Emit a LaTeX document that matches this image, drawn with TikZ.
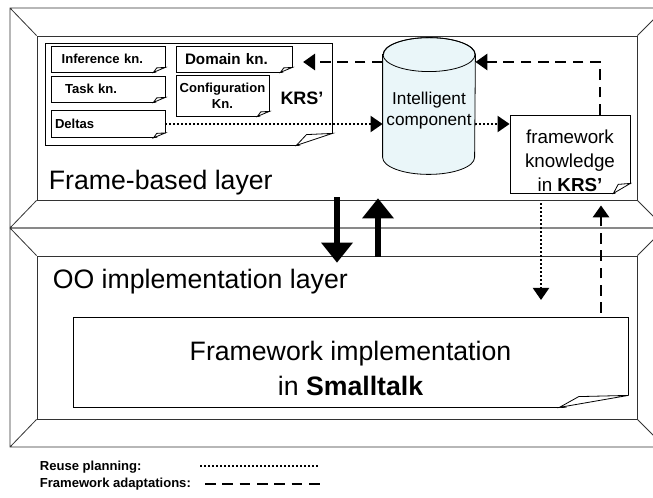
\documentclass[tikz,border=0pt]{standalone}
\usepackage{fontspec}
\setmainfont{Liberation Sans}
\usetikzlibrary{arrows.meta}
\definecolor{cylfill}{RGB}{234,246,249}
% folded lower right corner of a note box
\newcommand{\curl}[3]{%
  \fill[white] ([xshift=-#2,yshift=-1pt]#1.south east) -- ([xshift=1pt,yshift=-1pt]#1.south east) -- ([xshift=1pt,yshift=#3]#1.south east) -- cycle;
  \draw[fill=white] ([xshift=-#2]#1.south east) -- ([xshift=-0.72*#2,yshift=0.9*#3]#1.south east) -- ([yshift=#3]#1.south east) -- cycle;}
\tikzset{
  frame/.style={draw=black!80, line width=0.6pt},
  layername/.style={anchor=base west, font=\fontsize{20}{24}\selectfont},
  kn/.style={draw, fill=white, align=left, inner xsep=3pt, text width=79.5pt, minimum width=85.5pt, minimum height=19.5pt, font=\bfseries\fontsize{9.8}{12}\selectfont},
  legend/.style={anchor=base west, font=\bfseries\fontsize{9.8}{12}\selectfont},
  reuse/.style={line width=1.5pt, dash pattern=on 1.5pt off 1.5pt, -{Triangle[length=9pt,width=12pt]}},
  adapt/.style={line width=2.2pt, dash pattern=on 8pt off 5pt, -{Triangle[length=9pt,width=12pt]}},
  move/.style={line width=4pt, -{Triangle[length=15pt,width=24pt,line width=0pt]}}
}

\begin{document}
\begin{tikzpicture}[x=0.75pt, y=-0.75pt, line width=0.6pt]
  \useasboundingbox (0,0) rectangle (653,498);
  \clip (0,0) rectangle (653,498);
  % the two layers
  \node[frame, minimum width=450pt, minimum height=123pt] (fbl) at (337,118) {};
  \node[frame, minimum width=450pt, minimum height=122.25pt] (ool) at (337,337.5) {};
  \draw[frame] (10,8) rectangle (665,228) (10,8) -- (fbl.north west) (665,8) -- (fbl.north east)
    (10,228) -- (fbl.south west) (665,228) -- (fbl.south east);
  \draw[frame] (10,228) rectangle (665,447) (10,228) -- (ool.north west) (665,228) -- (ool.north east)
    (10,447) -- (ool.south west) (665,447) -- (ool.south east);
  \node[layername] (fbltext) at (44,190) {Frame-based layer};
  \node[layername] (ooltext) at (48,289) {OO implementation layer};

  % KRS' knowledge
  \node[draw, fill=white, minimum width=215.25pt, minimum height=76.5pt] (krs) at (188.5,94) {};
  \curl{krs}{27pt}{9pt}
  \node[kn] (inf) at (108,59) {\hspace*{5pt}Inference kn.};
  \curl{inf}{9pt}{3.75pt}
  \node[kn] (task) at (108,89) {\hspace*{7.5pt}Task kn.};
  \curl{task}{9pt}{3.75pt}
  \node[kn, minimum height=20.25pt] (deltas) at (108,124) {Deltas};
  \curl{deltas}{9pt}{3.75pt}
  \node[kn, text width=81pt, minimum width=87pt, font=\bfseries\fontsize{11.4}{14}\selectfont] (domain) at (234,59) {\hspace*{3.75pt}Domain kn.};
  \curl{domain}{9pt}{3.75pt}
  \node[kn, align=center, inner xsep=1.5pt, text width=66.75pt, minimum width=69.75pt, minimum height=30.75pt] (config) at (222.5,95.5) {Configuration\\Kn.};
  \curl{config}{9pt}{3.75pt}
  \node[font=\bfseries\fontsize{13.5}{16}\selectfont] (krslabel) at (302,98) {KRS’};

  % intelligent component
  \node[minimum width=69pt, minimum height=102pt] (ic) at (429,106) {};
  \draw[fill=cylfill] ([yshift=-12.75pt]ic.north west) -- ([yshift=12.75pt]ic.south west)
    arc[start angle=180, end angle=360, x radius=34.5pt, y radius=12.75pt]
    -- ([yshift=-12.75pt]ic.north east)
    arc[start angle=0, end angle=180, x radius=34.5pt, y radius=12.75pt] -- cycle;
  \draw ([yshift=-12.75pt]ic.north) ellipse[x radius=34.5pt, y radius=12.75pt];
  \node[align=center, font=\fontsize{12.9}{15.75}\selectfont] (iclabel) at (429,111) {Intelligent\\component};

  % framework knowledge
  \node[draw, fill=white, inner ysep=0pt, minimum width=90pt, minimum height=58.5pt, align=center, font=\fontsize{14.1}{18}\selectfont] (fk) at (570,154) {\rule{0pt}{20.5pt}framework\\knowledge\\in \textbf{KRS’}};
  \curl{fk}{12.75pt}{7.5pt}

  % framework implementation
  \node[draw, fill=white, minimum width=416.25pt, minimum height=67.5pt, align=center, font=\fontsize{20}{26}\selectfont] (fi) at (350.5,362) {\rule{0pt}{24pt}Framework implementation\\in \textbf{Smalltalk}};
  \curl{fi}{51.75pt}{9pt}

  % reuse planning
  \draw[reuse] (deltas.east) -- (ic.west |- deltas.east);
  \draw[reuse] (ic.east |- deltas.east) -- (fk.west |- deltas.east);
  \coordinate (rdown) at (541,300);
  \draw[reuse, shorten <=7.5pt] (fk.south -| rdown) -- (rdown);

  % framework adaptations
  \coordinate (bend) at (600,62);
  \draw[adapt] (fk.north -| bend) -- (bend) -- (ic.east |- bend);
  \draw[adapt, shorten >=8pt] (ic.west |- bend) -- (domain.east |- bend);
  \coordinate (aup) at (601,313);
  \draw[adapt, shorten >=9pt] (aup) -- (fk.south -| aup);

  % between the layers
  \draw[move] ([yshift=2.25pt]fbl.south) -- ([yshift=-5.25pt]ool.north);
  \draw[move] ([xshift=30.75pt,yshift=-0.75pt]ool.north) -- ([xshift=30.75pt,yshift=1.5pt]fbl.south);

  % legend
  \node[legend] (lreuse) at (35,470) {Reuse planning:};
  \node[legend] (ladapt) at (35,488) {Framework adaptations:};
  \draw[line width=1.5pt, dash pattern=on 1.5pt off 1.5pt] (200,466) -- (320,466);
  \draw[line width=2.2pt, dash pattern=on 8pt off 5pt] (205,484) -- (320,484);
\end{tikzpicture}
\end{document}
